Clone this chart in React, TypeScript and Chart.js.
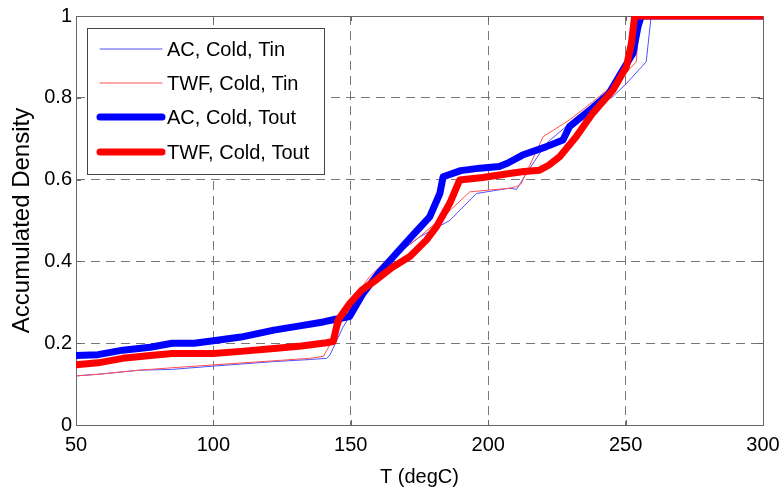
import React, { useEffect, useRef } from "react";
import { Chart, registerables } from "chart.js";

Chart.register(...registerables);

const acTinX = [50, 58, 73, 85, 100, 122, 135, 141.2, 142.4, 147.2, 153.3, 160, 165.4, 175.1, 186, 195.7, 207.8, 210.3, 213.9, 221.2, 228.4, 236, 245.4, 250.3, 257.5, 259.3, 300];
const acTinY = [0.12, 0.124, 0.134, 0.136, 0.144, 0.155, 0.16, 0.163, 0.171, 0.24, 0.306, 0.36, 0.41, 0.46, 0.5, 0.566, 0.579, 0.576, 0.615, 0.689, 0.73, 0.765, 0.803, 0.835, 0.888, 1.0, 1.0];

const twfTinX = [50, 58, 73, 85, 100, 122, 135, 140, 144.8, 150, 156.9, 163, 169, 175, 183.6, 193.3, 207.8, 210.3, 212, 220, 229.6, 238, 247.8, 253.9, 255, 300];
const twfTinY = [0.12, 0.124, 0.134, 0.14, 0.147, 0.157, 0.163, 0.168, 0.224, 0.3, 0.363, 0.403, 0.43, 0.46, 0.509, 0.57, 0.579, 0.583, 0.59, 0.705, 0.746, 0.79, 0.844, 0.888, 1.0, 1.0];

const acToutX = [50, 58, 67, 77, 85, 93, 100, 110, 122, 132, 140, 144, 149.5, 154.5, 160, 166.6, 172, 178.7, 182.4, 183.6, 190, 197, 204, 207, 212.5, 221, 227.2, 229.6, 237, 244, 249, 252.7, 254.5, 255.7, 300];
const acToutY = [0.17, 0.172, 0.183, 0.19, 0.2, 0.2, 0.206, 0.215, 0.232, 0.243, 0.252, 0.258, 0.265, 0.322, 0.37, 0.42, 0.46, 0.509, 0.566, 0.607, 0.622, 0.628, 0.632, 0.64, 0.66, 0.68, 0.697, 0.73, 0.77, 0.811, 0.868, 0.909, 0.974, 1.0, 1.0];

const twfToutX = [50, 58, 67, 77, 85, 100, 110, 122, 132, 141.2, 143.6, 145.4, 149.6, 154, 159.3, 165, 171.5, 177.5, 181.2, 186, 189.6, 198, 207.8, 213, 218.7, 222, 226, 232, 238, 245.4, 250.3, 252.1, 253.3, 300];
const twfToutY = [0.147, 0.152, 0.163, 0.17, 0.175, 0.175, 0.18, 0.187, 0.193, 0.201, 0.204, 0.257, 0.297, 0.33, 0.355, 0.385, 0.412, 0.452, 0.485, 0.542, 0.599, 0.605, 0.615, 0.62, 0.623, 0.635, 0.656, 0.705, 0.762, 0.819, 0.876, 0.933, 1.0, 1.0];

const seriesLabels = ["AC, Cold, Tin", "TWF, Cold, Tin", "AC, Cold, Tout", "TWF, Cold, Tout"];
const xTicks = [50, 100, 150, 200, 250, 300];
const yTicks = [0, 0.2, 0.4, 0.6, 0.8, 1];

const FONT = "'Liberation Sans', Arial, sans-serif";

const pts = (xs: number[], ys: number[]) => xs.map((x, i) => ({ x, y: ys[i] }));

export default function App() {
  const ref = useRef<HTMLCanvasElement | null>(null);

  useEffect(() => {
    if (!ref.current) return;
    const colors = ["rgb(80,80,255)", "rgb(255,80,80)", "#0000ff", "#ff0000"];
    const widths = [1, 1, 7, 7];

    const boxPlugin = {
      id: "boxPlugin",
      beforeDatasetsDraw(chart: any) {
        const { ctx, chartArea: a, scales } = chart;
        ctx.save();
        ctx.strokeStyle = "#666";
        ctx.lineWidth = 1;
        ctx.setLineDash([]);
        ctx.strokeRect(a.left + 0.5, a.top + 0.5, a.right - a.left, a.bottom - a.top);
        ctx.beginPath();
        const tl = 5;
        for (const v of xTicks) {
          const px = Math.round(scales.x.getPixelForValue(v)) + 0.5;
          ctx.moveTo(px, a.bottom);
          ctx.lineTo(px, a.bottom - tl);
          ctx.moveTo(px, a.top);
          ctx.lineTo(px, a.top + tl);
        }
        for (const v of yTicks) {
          const py = Math.round(scales.y.getPixelForValue(v)) + 0.5;
          ctx.moveTo(a.left, py);
          ctx.lineTo(a.left + tl, py);
          ctx.moveTo(a.right, py);
          ctx.lineTo(a.right - tl, py);
        }
        ctx.stroke();
        ctx.restore();
      },
      afterDraw(chart: any) {
        const { ctx, chartArea: a } = chart;
        const bx = a.left + 11;
        const by = a.top + 12;
        const bw = 237;
        const bh = 146;
        ctx.save();
        ctx.fillStyle = "#fff";
        ctx.fillRect(bx, by, bw, bh);
        ctx.strokeStyle = "#444";
        ctx.lineWidth = 1;
        ctx.strokeRect(bx + 0.5, by + 0.5, bw, bh);
        const rows = [21, 55, 89, 124];
        ctx.font = `20px ${FONT}`;
        ctx.textBaseline = "middle";
        ctx.textAlign = "left";
        for (let i = 0; i < 4; i++) {
          const y = by + rows[i];
          ctx.beginPath();
          ctx.strokeStyle = colors[i];
          ctx.lineWidth = widths[i];
          ctx.lineCap = "round";
          ctx.moveTo(bx + 13, y);
          ctx.lineTo(bx + 75, y);
          ctx.stroke();
          ctx.fillStyle = "#000";
          ctx.fillText(seriesLabels[i], bx + 80, y + 1);
        }
        ctx.restore();
      },
    };

    const data = [pts(acTinX, acTinY), pts(twfTinX, twfTinY), pts(acToutX, acToutY), pts(twfToutX, twfToutY)];

    const chart = new Chart(ref.current, {
      type: "line",
      data: {
        datasets: data.map((d, i) => ({
          label: seriesLabels[i],
          data: d,
          borderColor: colors[i],
          backgroundColor: colors[i],
          borderWidth: widths[i],
          pointRadius: 0,
          tension: 0,
          fill: false,
          borderJoinStyle: "round" as const,
          borderCapStyle: "round" as const,
          order: 3 - i,
        })),
      },
      options: {
        animation: false,
        responsive: false,
        layout: { padding: { left: 0, right: 20, top: 16, bottom: 0 } },
        plugins: { legend: { display: false }, tooltip: { enabled: false } },
        scales: {
          x: {
            type: "linear",
            min: 50,
            max: 300,
            afterBuildTicks: (s: any) => {
              s.ticks = xTicks.map((v) => ({ value: v }));
            },
            afterFit: (s: any) => {
              s.height = 68;
              s.paddingLeft = 0;
              s.paddingRight = 0;
            },
            grid: { color: "#777", lineWidth: 1, drawTicks: false },
            border: { display: false, dash: [9, 6] },
            ticks: { color: "#000", font: { family: FONT, size: 20 }, padding: 8, maxRotation: 0 },
            title: {
              display: true,
              text: "T (degC)",
              color: "#000",
              font: { family: FONT, size: 20 },
              padding: { top: 0, bottom: 4 },
            },
          },
          y: {
            type: "linear",
            min: 0,
            max: 1,
            afterBuildTicks: (s: any) => {
              s.ticks = yTicks.map((v) => ({ value: v }));
            },
            afterFit: (s: any) => {
              s.width = 76;
              s.paddingTop = 0;
              s.paddingBottom = 0;
            },
            grid: { color: "#777", lineWidth: 1, drawTicks: false },
            border: { display: false, dash: [9, 6] },
            ticks: {
              color: "#000",
              font: { family: FONT, size: 20 },
              padding: 4,
              callback: (v: any) => String(Math.round(Number(v) * 10) / 10),
            },
            title: {
              display: true,
              text: "Accumulated Density",
              color: "#000",
              font: { family: FONT, size: 24 },
              padding: { top: 8, bottom: 0 },
            },
          },
        },
      },
      plugins: [boxPlugin],
    } as any);

    return () => chart.destroy();
  }, []);

  return (
    <div style={{ position: "absolute", left: 0, top: 0, width: 783, height: 493, background: "#fff" }}>
      <canvas ref={ref} width={783} height={493} />
    </div>
  );
}
